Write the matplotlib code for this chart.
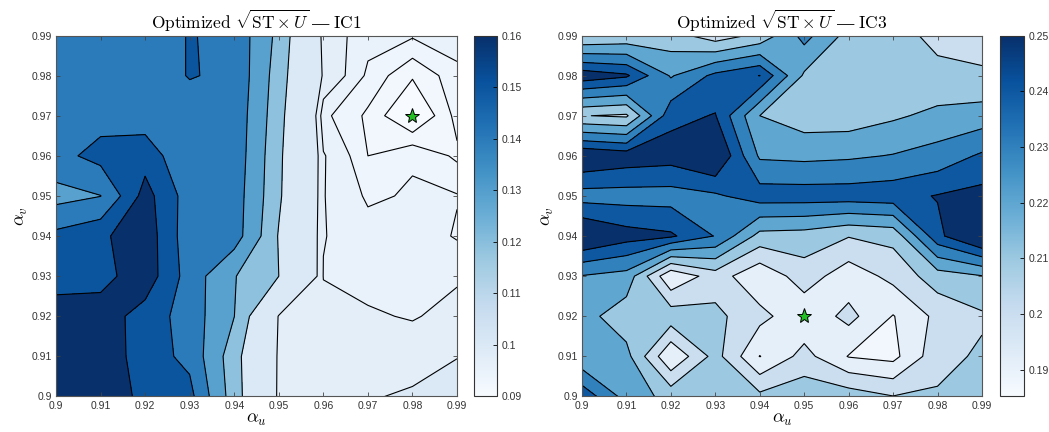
import numpy as np
import matplotlib
matplotlib.use('Agg')
import matplotlib.pyplot as plt
from matplotlib import cm, colors
from matplotlib.ticker import FuncFormatter

plt.rcParams['font.family'] = ['Liberation Sans', 'DejaVu Sans']
plt.rcParams['mathtext.fontset'] = 'cm'

# grille des parametres
alpha_u = [0.90, 0.91, 0.92, 0.93, 0.94, 0.95, 0.96, 0.97, 0.98, 0.99]
alpha_v = [0.90, 0.91, 0.92, 0.93, 0.94, 0.95, 0.96, 0.97, 0.98, 0.99]

# sqrt(ST x U), lignes = alpha_v, colonnes = alpha_u
z_ic1 = [
    [0.1625, 0.1630, 0.1574, 0.1530, 0.1235, 0.0988, 0.0985, 0.0997, 0.1005, 0.1032],
    [0.1620, 0.1650, 0.1545, 0.1475, 0.1228, 0.0990, 0.0985, 0.0983, 0.0985, 0.0998],
    [0.1613, 0.1635, 0.1553, 0.1457, 0.1291, 0.0995, 0.0980, 0.0973, 0.0968, 0.0978],
    [0.1570, 0.1559, 0.1643, 0.1459, 0.1295, 0.1190, 0.0969, 0.0962, 0.0960, 0.0967],
    [0.1526, 0.1574, 0.1645, 0.1444, 0.1451, 0.1183, 0.0971, 0.0958, 0.0962, 0.0948],
    [0.1365, 0.1398, 0.1625, 0.1455, 0.1455, 0.1205, 0.0971, 0.0947, 0.0952, 0.0951],
    [0.1468, 0.1533, 0.1554, 0.1419, 0.1467, 0.1210, 0.0972, 0.0935, 0.0948, 0.0932],
    [0.1460, 0.1464, 0.1452, 0.1455, 0.1472, 0.1225, 0.0954, 0.0932, 0.0900, 0.0940],
    [0.1450, 0.1450, 0.1450, 0.1505, 0.1483, 0.1238, 0.0993, 0.0946, 0.0922, 0.0944],
    [0.1440, 0.1450, 0.1450, 0.1505, 0.1476, 0.1260, 0.0985, 0.0957, 0.0952, 0.0961],
]

z_ic3 = [
    [0.2470, 0.2260, 0.2165, 0.2140, 0.2125, 0.2165, 0.2155, 0.2103, 0.2112, 0.2125],
    [0.2220, 0.2233, 0.1908, 0.2138, 0.1897, 0.2035, 0.1895, 0.1870, 0.2065, 0.2117],
    [0.2240, 0.2140, 0.2160, 0.2125, 0.2032, 0.1925, 0.2031, 0.1895, 0.2026, 0.2085],
    [0.2295, 0.2263, 0.1913, 0.2051, 0.1920, 0.2053, 0.1940, 0.2030, 0.2153, 0.2195],
    [0.2600, 0.2530, 0.2505, 0.2395, 0.2165, 0.2155, 0.2105, 0.2130, 0.2465, 0.2620],
    [0.2360, 0.2360, 0.2360, 0.2385, 0.2450, 0.2450, 0.2450, 0.2460, 0.2495, 0.2520],
    [0.2580, 0.2545, 0.2530, 0.2600, 0.2285, 0.2275, 0.2285, 0.2305, 0.2340, 0.2415],
    [0.2104, 0.2085, 0.2465, 0.2495, 0.2200, 0.2145, 0.2145, 0.2185, 0.2225, 0.2245],
    [0.2550, 0.2505, 0.2290, 0.2425, 0.2492, 0.2185, 0.2145, 0.2130, 0.2125, 0.2115],
    [0.2095, 0.2120, 0.2140, 0.2045, 0.2125, 0.2335, 0.2165, 0.2135, 0.2075, 0.2055],
]

# niveaux des isolignes et teinte de chaque bande (valeur du niveau inferieur)
levels_ic1 = [0.092, 0.0935, 0.095, 0.097, 0.100, 0.119, 0.129, 0.140, 0.150, 0.159]
shades_ic1 = [0.090, 0.092, 0.0935, 0.095, 0.097, 0.100, 0.119, 0.129, 0.140, 0.150, 0.160]
clim_ic1 = (0.09, 0.16)
ticks_ic1 = [0.09, 0.10, 0.11, 0.12, 0.13, 0.14, 0.15, 0.16]
best_ic1 = (0.98, 0.97)

levels_ic3 = [0.19, 0.20, 0.21, 0.22, 0.23, 0.24, 0.249]
shades_ic3 = [0.1872, 0.1915, 0.20, 0.21, 0.22, 0.23, 0.24, 0.25]
clim_ic3 = (0.1852, 0.25)
ticks_ic3 = [0.19, 0.20, 0.21, 0.22, 0.23, 0.24, 0.25]
best_ic3 = (0.95, 0.92)

fmt = FuncFormatter(lambda v, p: '%g' % round(v, 4))
cmap = plt.get_cmap('Blues')


def panneau(ax, cax, z, levels, shades, clim, ticks, best, cas):
    U, V = np.meshgrid(alpha_u, alpha_v)
    Z = np.array(z)
    norm = colors.Normalize(*clim)
    bandes = [cmap(norm(s)) for s in shades]
    ax.contourf(U, V, Z, levels=[0.0] + levels + [1.0], colors=bandes)
    ax.contour(U, V, Z, levels=levels, colors='k', linewidths=0.8)
    ax.plot(best[0], best[1], marker='*', ms=11, mfc='#22c022', mec='k',
            mew=0.7, linestyle='none')
    ax.set_xlim(0.9, 0.99)
    ax.set_ylim(0.9, 0.99)
    ax.set_xticks(alpha_u)
    ax.set_yticks(alpha_v)
    ax.xaxis.set_major_formatter(fmt)
    ax.yaxis.set_major_formatter(fmt)
    ax.tick_params(direction='in', length=3, width=0.6, top=True, right=True,
                   labelsize=7.5, labelcolor='#333333', color='#444444', pad=3)
    for s in ax.spines.values():
        s.set_color('#555555')
        s.set_linewidth(0.8)
    ax.set_xlabel(r'$\alpha_u$', fontsize=13, labelpad=0)
    ax.set_ylabel(r'$\alpha_v$', fontsize=13, labelpad=1)
    titre = r'$\mathrm{Optimized}\ \sqrt{\mathrm{ST}\times U}$ — $\mathrm{%s}$' % cas
    ax.set_title(titre, fontsize=12.5, family='STIXGeneral', pad=5)

    sm = cm.ScalarMappable(norm=norm, cmap=cmap)
    cb = plt.colorbar(sm, cax=cax, ticks=ticks, format=fmt)
    cb.outline.set_linewidth(0.8)
    cb.outline.set_edgecolor('#333333')
    cax.tick_params(direction='in', length=3, width=0.6, labelsize=7.5,
                    labelcolor='#333333', pad=3)


fig = plt.figure(figsize=(10.49, 4.32), dpi=100)
ax1 = fig.add_axes([0.0534, 0.0822, 0.3823, 0.8356])
cb1 = fig.add_axes([0.4519, 0.0822, 0.0219, 0.8356])
ax2 = fig.add_axes([0.5548, 0.0822, 0.3813, 0.8356])
cb2 = fig.add_axes([0.9533, 0.0822, 0.0229, 0.8356])

panneau(ax1, cb1, z_ic1, levels_ic1, shades_ic1, clim_ic1, ticks_ic1, best_ic1, 'IC1')
panneau(ax2, cb2, z_ic3, levels_ic3, shades_ic3, clim_ic3, ticks_ic3, best_ic3, 'IC3')

fig.savefig('out.png', dpi=100)
